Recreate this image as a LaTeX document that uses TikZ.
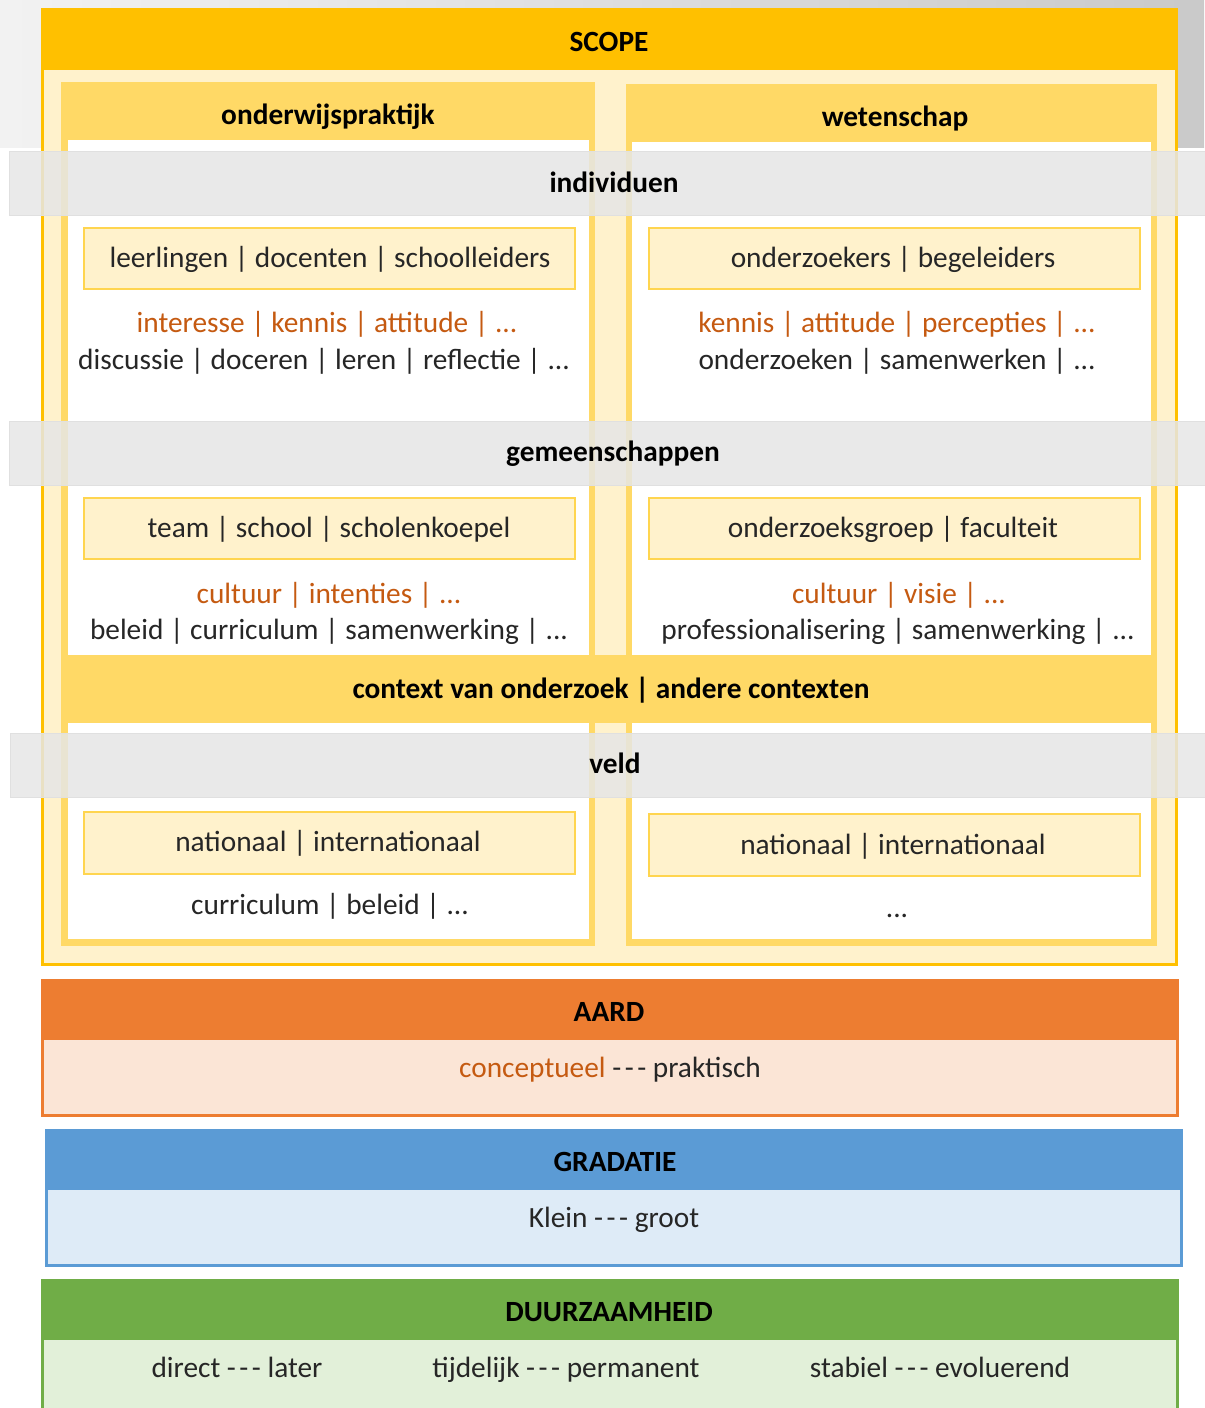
\documentclass[tikz,border=0pt]{standalone}
\usepackage{fontspec}
\setmainfont{Carlito}

\definecolor{scopegeel}{HTML}{FFC000}
\definecolor{lichtgeel}{HTML}{FFF2CC}
\definecolor{paneelgeel}{HTML}{FFD966}
\definecolor{kadergeel}{HTML}{FFD54F}
\definecolor{oranjetekst}{HTML}{C55A11}
\definecolor{bandgrijs}{HTML}{E6E6E6}
\definecolor{aardoranje}{HTML}{ED7D31}
\definecolor{aardlicht}{HTML}{FBE5D6}
\definecolor{gradblauw}{HTML}{5B9BD5}
\definecolor{gradlicht}{HTML}{DEEBF7}
\definecolor{duurgroen}{HTML}{70AD47}
\definecolor{duurlicht}{HTML}{E2F0D9}
\definecolor{tekst}{HTML}{262626}

\newcommand{\streep}{-\hspace{0.12em}-\hspace{0.12em}-}

\tikzset{every picture/.style={line width=0.75pt}}
\tikzset{
  gewoon/.style={inner sep=0.75pt, text=tekst, text height=17pt, text depth=3pt, font=\fontsize{22}{26}\selectfont},
  kop/.style={inner sep=0.75pt, text=black, text height=17pt, text depth=3pt, font=\fontsize{22}{26}\selectfont\bfseries},
  oranje/.style={gewoon, text=oranjetekst},
  kader/.style={fill=lichtgeel, draw=kadergeel, line width=1.5pt},
  band/.style={fill=bandgrijs, fill opacity=0.85, draw=black!12, line width=0.75pt},
}

\begin{document}
\begin{tikzpicture}[x=0.75pt,y=0.75pt,yscale=-1,xscale=1]
        \useasboundingbox (0,0) rectangle (1204,1408);

        %Shape: Background shade
        \shade [left color=gray!10, middle color=white, right color=gray!42] (0,0) rectangle (1204,148) ;

        %Shape: Rectangle SCOPE
        \draw [draw=scopegeel, fill=lichtgeel, line width=2.25pt] (42,10) rectangle (1176,964) ;
        \fill [scopegeel] (42,10) rectangle (1176,70) ;
        %Shape: Rectangle onderwijspraktijk
        \fill [paneelgeel] (61,82) rectangle (595,946) ;
        \fill [white] (68,140) rectangle (589,939) ;
        %Shape: Rectangle wetenschap
        \fill [paneelgeel] (626,84) rectangle (1157,946) ;
        \fill [white] (632,142) rectangle (1151,939) ;
        %Shape: Rectangle context
        \fill [paneelgeel] (61,655) rectangle (1157,723) ;

        %Shape: Rectangle bands
        \draw [band] (9,152) rectangle (1210,216) ;
        \draw [band] (9,421) rectangle (1210,485) ;
        \draw [band] (10,733) rectangle (1210,797) ;

        %Shape: Rectangle boxes
        \draw [kader] (84,228) rectangle (575,289) ;
        \draw [kader] (649,228) rectangle (1140,289) ;
        \draw [kader] (84,498) rectangle (575,559) ;
        \draw [kader] (649,498) rectangle (1140,559) ;
        \draw [kader] (84,812) rectangle (575,874) ;
        \draw [kader] (649,814) rectangle (1140,876) ;

        % Text Node
        \draw (609,42) node (scope) [kop] {SCOPE};
        % Text Node
        \draw (328,115) node (onderwijs) [kop] {onderwijspraktijk};
        % Text Node
        \draw (895,117) node (wetenschap) [kop] {wetenschap};
        % Text Node
        \draw (614,183) node (individuen) [kop] {individuen};
        % Text Node
        \draw (613,452) node (gemeenschappen) [kop] {gemeenschappen};
        % Text Node
        \draw (611,689) node (context) [kop] {context van onderzoek | andere contexten};
        % Text Node
        \draw (615,764) node (veld) [kop] {veld};

        % Text Node
        \draw (330,258) node (leerlingen) [gewoon] {leerlingen | docenten | schoolleiders};
        % Text Node
        \draw (893,258) node (onderzoekers) [gewoon] {onderzoekers | begeleiders};
        % Text Node
        \draw (327,323) node (interesse) [oranje] {interesse | kennis | attitude | ...};
        % Text Node
        \draw (897,323) node (percepties) [oranje] {kennis | attitude | percepties | ...};
        % Text Node
        \draw (324,360) node (discussie) [gewoon] {discussie | doceren | leren | reflectie | ...};
        % Text Node
        \draw (897,360) node (onderzoeken) [gewoon] {onderzoeken | samenwerken | ...};

        % Text Node
        \draw (329,528) node (team) [gewoon] {team | school | scholenkoepel};
        % Text Node
        \draw (893,528) node (groep) [gewoon] {onderzoeksgroep | faculteit};
        % Text Node
        \draw (329,594) node (intenties) [oranje] {cultuur | intenties | ...};
        % Text Node
        \draw (899,594) node (visie) [oranje] {cultuur | visie | ...};
        % Text Node
        \draw (329,630) node (beleid) [gewoon] {beleid | curriculum | samenwerking | ...};
        % Text Node
        \draw (898,630) node (prof) [gewoon] {professionalisering | samenwerking | ...};

        % Text Node
        \draw (328,842) node (nationaalL) [gewoon] {nationaal | internationaal};
        % Text Node
        \draw (893,845) node (nationaalR) [gewoon] {nationaal | internationaal};
        % Text Node
        \draw (330,905) node (curriculum) [gewoon] {curriculum | beleid | ...};
        % Text Node
        \draw (897,908) node (puntjes) [gewoon] {...};

        %Shape: Rectangle AARD
        \fill [aardlicht] (42,980) rectangle (1177,1115) ;
        \fill [aardoranje] (42,980) rectangle (1177,1040) ;
        \draw [aardoranje, line width=2.25pt] (42,980) rectangle (1177,1115) ;
        %Shape: Rectangle GRADATIE
        \fill [gradlicht] (46,1130) rectangle (1181,1265) ;
        \fill [gradblauw] (46,1130) rectangle (1181,1190) ;
        \draw [gradblauw, line width=2.25pt] (46,1130) rectangle (1181,1265) ;
        %Shape: Rectangle DUURZAAMHEID
        \fill [duurlicht] (42,1280) rectangle (1177,1420) ;
        \fill [duurgroen] (42,1280) rectangle (1177,1340) ;
        \draw [duurgroen, line width=2.25pt] (42,1280) rectangle (1177,1420) ;

        % Text Node
        \draw (609,1012) node (aard) [kop] {AARD};
        % Text Node
        \draw (610,1068) node (aardschaal) [gewoon] {\textcolor{oranjetekst}{conceptueel} \streep{} praktisch};
        % Text Node
        \draw (615,1162) node (gradatie) [kop] {GRADATIE};
        % Text Node
        \draw (614,1218) node (gradschaal) [gewoon] {Klein \streep{} groot};
        % Text Node
        \draw (609,1312) node (duurzaamheid) [kop] {DUURZAAMHEID};
        % Text Node
        \draw (237,1368) node (direct) [gewoon] {direct \streep{} later};
        % Text Node
        \draw (566,1368) node (tijdelijk) [gewoon] {tijdelijk \streep{} permanent};
        % Text Node
        \draw (940,1368) node (stabiel) [gewoon] {stabiel \streep{} evoluerend};

\end{tikzpicture}
\end{document}
